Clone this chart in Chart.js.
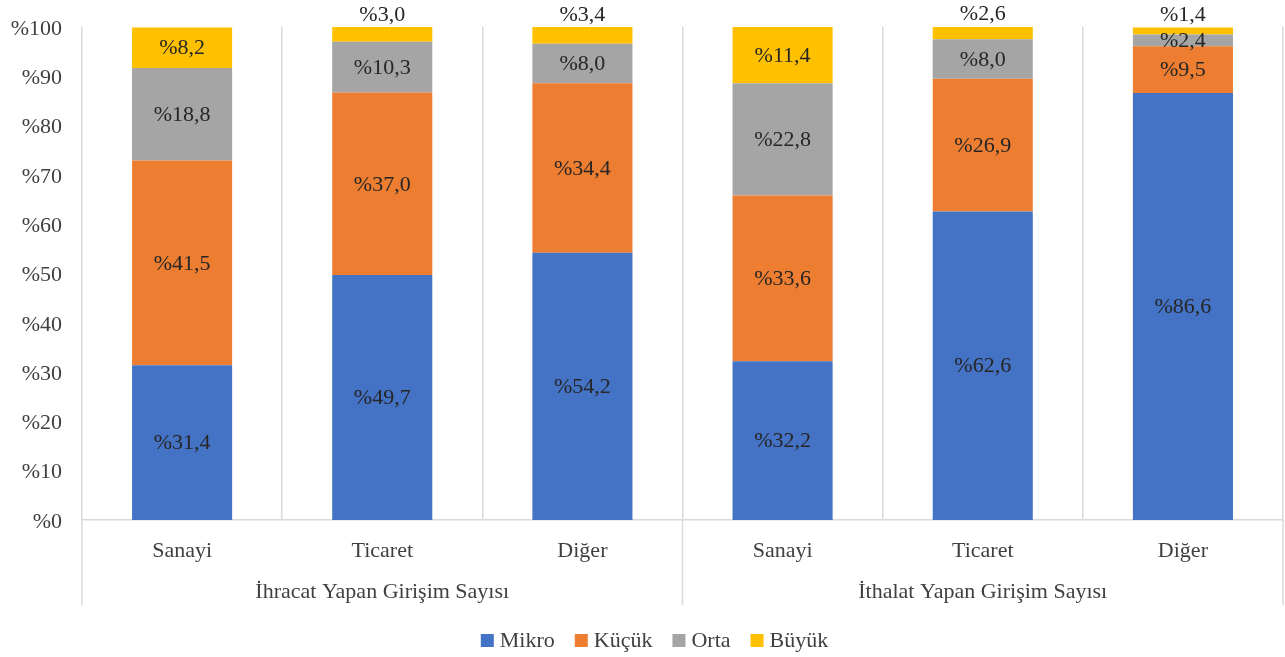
<!DOCTYPE html>
<html>
<head>
<meta charset="utf-8">
<script src="https://cdn.jsdelivr.net/npm/chart.js@4"></script>
<style>
html,body{margin:0;padding:0;background:#fff;}
#wrap{width:1285px;height:657px;position:relative;}
</style>
</head>
<body>
<div id="wrap"><canvas id="c" width="1285" height="657"></canvas></div>
<script>
const categories = ["Sanayi","Ticaret","Diğer","Sanayi","Ticaret","Diğer"];
const groups = ["İhracat Yapan Girişim Sayısı","İthalat Yapan Girişim Sayısı"];
const seriesNames = ["Mikro","Küçük","Orta","Büyük"];
const mikro = [31.4,49.7,54.2,32.2,62.6,86.6];
const kucuk = [41.5,37.0,34.4,33.6,26.9,9.5];
const orta  = [18.8,10.3,8.0,22.8,8.0,2.4];
const buyuk = [8.2,3.0,3.4,11.4,2.6,1.4];
const yTicks = [0,10,20,30,40,50,60,70,80,90,100];
const colors = ["#4472C4","#ED7D31","#A5A5A5","#FFC000"];

const FONT = "'Liberation Serif', 'Times New Roman', serif";
const FS = 22;
const fmt = v => "%" + v.toFixed(1).replace(".", ",");

const labelPlugin = {
  id: "labels",
  afterDatasetsDraw(chart) {
    const ctx = chart.ctx;
    ctx.save();
    ctx.font = FS + "px " + FONT;
    ctx.fillStyle = "#262626";
    ctx.textAlign = "center";
    ctx.textBaseline = "middle";
    chart.data.datasets.forEach((ds, di) => {
      const meta = chart.getDatasetMeta(di);
      meta.data.forEach((bar, i) => {
        const v = ds.data[i];
        let y;
        if (di === 3 && v < 5) {
          y = bar.y - 13;
        } else {
          y = (bar.y + bar.base) / 2;
        }
        ctx.fillText(fmt(v), bar.x, y + 1);
      });
    });
    ctx.restore();
  },
  afterDraw(chart) {
    const ctx = chart.ctx;
    const xs = chart.scales.x;
    const cw = xs.getPixelForValue(1) - xs.getPixelForValue(0);
    const left = xs.getPixelForValue(0) - cw / 2;
    const mid = xs.getPixelForValue(2) + cw / 2;
    const right = xs.getPixelForValue(5) + cw / 2;
    const top = chart.chartArea.bottom;
    const bottom = top + 85;
    ctx.save();
    ctx.strokeStyle = "#d9d9d9";
    ctx.lineWidth = 1.5;
    [left, mid, right].forEach(x => {
      ctx.beginPath();
      ctx.moveTo(x, top);
      ctx.lineTo(x, bottom);
      ctx.stroke();
    });
    ctx.font = FS + "px " + FONT;
    ctx.fillStyle = "#404040";
    ctx.textAlign = "center";
    ctx.textBaseline = "middle";
    ctx.fillText(groups[0], (left + mid) / 2, top + 72);
    ctx.fillText(groups[1], (mid + right) / 2, top + 72);

    // legend
    const boxW = 13, gapBox = 6, gapItem = 20;
    const items = chart.data.datasets.map(ds => ({ text: ds.label, color: ds.backgroundColor, w: ctx.measureText(ds.label).width }));
    const total = items.reduce((s, it) => s + boxW + gapBox + it.w, 0) + gapItem * (items.length - 1);
    let x = (chart.chartArea.left + chart.chartArea.right) / 2 - total / 2 - 28;
    const ly = top + 120;
    ctx.textAlign = "left";
    items.forEach(it => {
      ctx.fillStyle = it.color;
      ctx.fillRect(x, ly - 6, boxW, boxW);
      ctx.fillStyle = "#404040";
      ctx.fillText(it.text, x + boxW + gapBox, ly + 1);
      x += boxW + gapBox + it.w + gapItem;
    });
    ctx.restore();
  }
};

new Chart(document.getElementById("c"), {
  type: "bar",
  data: {
    labels: categories,
    datasets: [mikro, kucuk, orta, buyuk].map((d, i) => ({
      label: seriesNames[i],
      data: d,
      backgroundColor: colors[i],
      borderWidth: 0,
      categoryPercentage: 1.0,
      barPercentage: 0.5
    }))
  },
  options: {
    responsive: false,
    animation: false,
    devicePixelRatio: 1,
    layout: { padding: { top: 27, right: 2, left: 0, bottom: 52 } },
    plugins: {
      legend: { display: false },
      tooltip: { enabled: false }
    },
    scales: {
      x: {
        stacked: true,
        offset: true,
        grid: {
          display: true,
          offset: true,
          color: "#d9d9d9",
          lineWidth: 1.5,
          drawTicks: false
        },
        border: { display: true, color: "#d9d9d9", width: 1.5 },
        ticks: {
          font: { family: FONT, size: FS },
          color: "#404040",
          padding: 18,
          maxRotation: 0
        },
        afterFit(scale) { scale.height = 85; scale.paddingLeft = 0; scale.paddingRight = 0; }
      },
      y: {
        stacked: true,
        min: 0,
        max: 100,
        afterBuildTicks(scale) { scale.ticks = yTicks.map(v => ({ value: v })); },
        grid: { display: false, drawTicks: false },
        border: { display: false },
        ticks: {
          font: { family: FONT, size: FS },
          color: "#404040",
          padding: 20,
          labelOffset: 2,
          callback: v => "%" + v
        },
        afterFit(scale) { scale.width = 82; scale.paddingTop = 0; scale.paddingBottom = 0; }
      }
    }
  },
  plugins: [labelPlugin]
});
</script>
</body>
</html>
